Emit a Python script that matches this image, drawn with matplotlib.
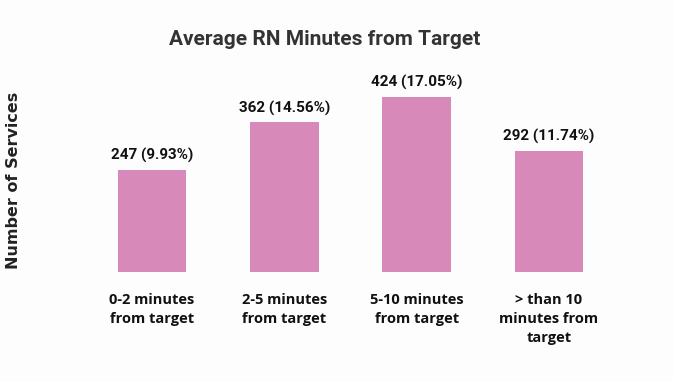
import numpy as np
import matplotlib.pyplot as plt

categories = ["0-2 minutes\nfrom target", "2-5 minutes\nfrom target",
              "5-10 minutes\nfrom target", "> than 10\nminutes from\ntarget"]
counts = [247, 362, 424, 292]
percents = [9.93, 14.56, 17.05, 11.74]

bar_color = "#d78ab9"

fig = plt.figure(figsize=(6.73, 3.82), dpi=100)
fig.patch.set_facecolor("#fdfdfd")
ax = fig.add_axes([33 / 673, 110 / 382, 635 / 673, 206.5 / 382])
ax.set_facecolor("#fdfdfd")

x = np.arange(len(counts))
bars = ax.bar(x, counts, width=0.52, color=bar_color)

for xi, c, p in zip(x, counts, percents):
    ax.annotate("%d (%.2f%%)" % (c, p), (xi, c), xytext=(0, 5),
                textcoords="offset points", ha="center", va="bottom",
                fontsize=11, fontweight="bold", family="Roboto", color="#111111")

ax.set_xlim(-0.9, 3.9)
ax.set_ylim(0, 500)
ax.set_xticks(x)
ax.set_xticklabels(categories, fontsize=10.5, fontweight="bold", family="Open Sans",
                   color="#111111", linespacing=1.45)
ax.tick_params(axis="x", length=0, pad=15)
ax.set_yticks([])
for s in ax.spines.values():
    s.set_visible(False)

fig.text(0.483, 0.897, "Average RN Minutes from Target", ha="center", va="center",
         fontsize=15, fontweight="bold", family="Roboto", color="#333333")
fig.text(0.02, 0.529, "Number of Services", rotation=90, ha="center", va="center",
         fontsize=11.5, fontweight="bold", family="DejaVu Sans", color="#222222")

fig.savefig("out.png", dpi=100, facecolor=fig.get_facecolor())
